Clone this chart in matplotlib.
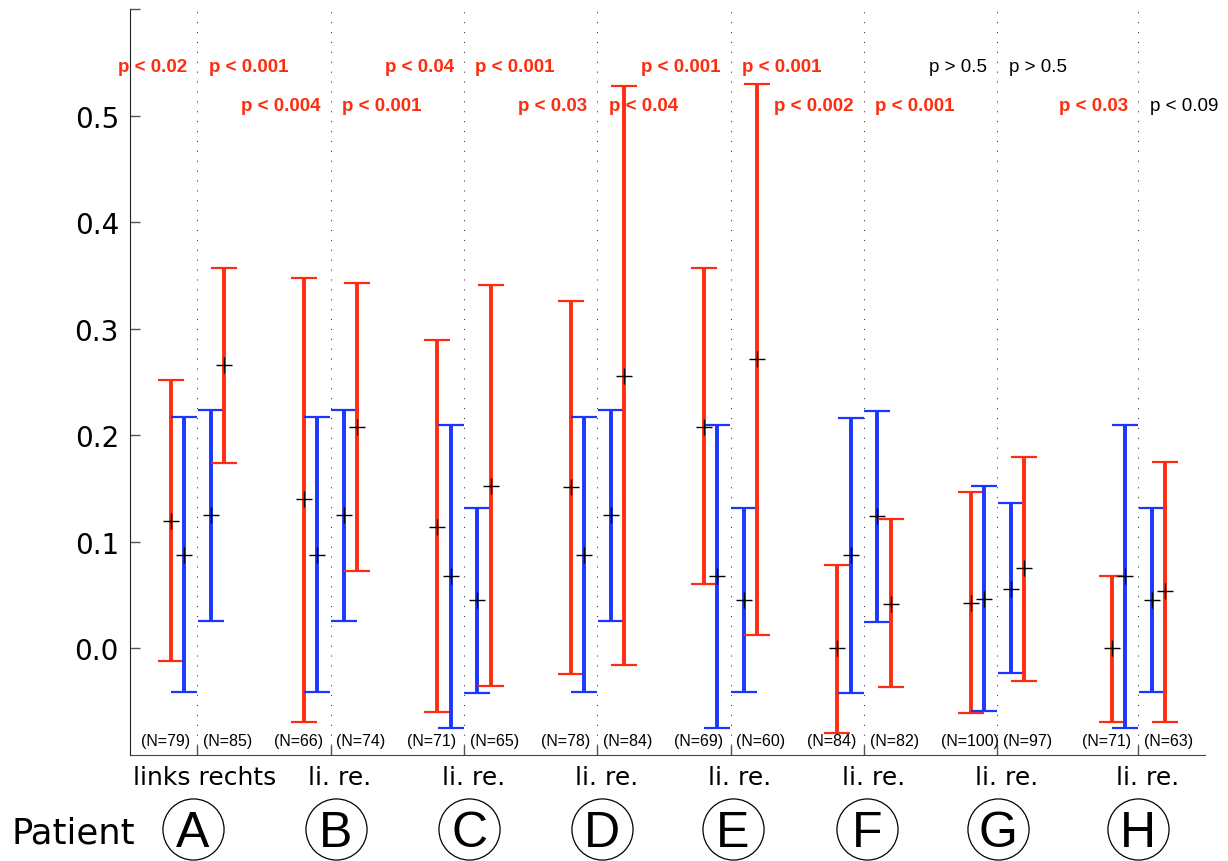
import numpy as np
import matplotlib
matplotlib.use("Agg")
import matplotlib.pyplot as plt

# patients and group labels
patients = ["A", "B", "C", "D", "E", "F", "G", "H"]
side_text = ["links rechts", "li. re.", "li. re.", "li. re.", "li. re.", "li. re.", "li. re.", "li. re."]
n_left = [79, 66, 71, 78, 69, 84, 100, 71]
n_right = [85, 74, 65, 84, 60, 82, 97, 63]

# p values (left / right side), sig -> red bold
p_left = ["p < 0.02", "p < 0.004", "p < 0.04", "p < 0.03", "p < 0.001", "p < 0.002", "p > 0.5", "p < 0.03"]
p_right = ["p < 0.001", "p < 0.001", "p < 0.001", "p < 0.04", "p < 0.001", "p < 0.001", "p > 0.5", "p < 0.09"]
sig_left = [True, True, True, True, True, True, False, True]
sig_right = [True, True, True, True, True, True, False, False]

# red = patient, blue = reference; mean, lower, upper
red_left_mean = [0.120, 0.140, 0.114, 0.151, 0.208, 0.000, 0.043, 0.000]
red_left_lo = [-0.012, -0.069, -0.060, -0.024, 0.060, -0.079, -0.061, -0.069]
red_left_hi = [0.252, 0.348, 0.289, 0.326, 0.357, 0.078, 0.147, 0.068]

blue_left_mean = [0.088, 0.088, 0.068, 0.088, 0.068, 0.088, 0.046, 0.068]
blue_left_lo = [-0.041, -0.041, -0.075, -0.041, -0.075, -0.042, -0.059, -0.075]
blue_left_hi = [0.217, 0.217, 0.210, 0.217, 0.210, 0.216, 0.152, 0.210]

blue_right_mean = [0.125, 0.125, 0.045, 0.125, 0.045, 0.124, 0.056, 0.045]
blue_right_lo = [0.026, 0.026, -0.042, 0.026, -0.041, 0.025, -0.023, -0.041]
blue_right_hi = [0.224, 0.224, 0.132, 0.224, 0.132, 0.223, 0.136, 0.132]

red_right_mean = [0.266, 0.208, 0.152, 0.256, 0.272, 0.042, 0.075, 0.054]
red_right_lo = [0.174, 0.073, -0.035, -0.016, 0.013, -0.036, -0.031, -0.069]
red_right_hi = [0.357, 0.343, 0.341, 0.528, 0.530, 0.121, 0.180, 0.175]

RED = "#ff2d0f"
BLUE = "#1a36ff"

centers = np.array([1, 2, 3, 4, 5, 6, 7, 8.058])
circ_off = [-0.034, 0.04, 0.04, 0.035, 0.017, 0.025, 0.008, 0.0]

fig = plt.figure(figsize=(12.28, 8.62), dpi=100)
ax = fig.add_axes([0.1059, 0.123, 0.8754, 0.8654])


def bars(xoff, mean, lo, hi, color):
    mean = np.array(mean)
    err = [mean - np.array(lo), np.array(hi) - mean]
    ax.errorbar(centers + xoff, mean, yerr=err, fmt="none", ecolor=color,
                elinewidth=2.8, capsize=9.4, capthick=1.6, zorder=3)


bars(-0.2, red_left_mean, red_left_lo, red_left_hi, RED)
bars(-0.1, blue_left_mean, blue_left_lo, blue_left_hi, BLUE)
bars(0.1, blue_right_mean, blue_right_lo, blue_right_hi, BLUE)
bars(0.2, red_right_mean, red_right_lo, red_right_hi, RED)

for xoff, m in [(-0.2, red_left_mean), (-0.1, blue_left_mean),
                (0.1, blue_right_mean), (0.2, red_right_mean)]:
    ax.plot(centers + xoff, m, "+", color="k", ms=12, mew=1.0, zorder=5)

# dotted separators
for c in centers:
    ax.axvline(c, color="#333333", lw=0.75, ls=(0, (1, 8.5)), zorder=1)

ax.set_xlim(0.495, 8.558)
ax.set_ylim(-0.1, 0.6)

ax.set_yticks([0.0, 0.1, 0.2, 0.3, 0.4, 0.5, 0.6])
ax.set_yticklabels(["0.0", "0.1", "0.2", "0.3", "0.4", "0.5", ""])
ax.set_xticks(centers)
ax.set_xticklabels([])
ax.tick_params(axis="y", direction="in", length=7.2, width=1.0, color="#555555",
               labelsize=20, pad=8)
ax.tick_params(axis="x", direction="in", length=7.2, width=1.0, color="#555555")
ax.spines["top"].set_visible(False)
ax.spines["right"].set_visible(False)
ax.spines["left"].set_color("#222222")
ax.spines["bottom"].set_color("#444444")

# N labels
for i, c in enumerate(centers):
    ax.text(c - 0.425, -0.0868, "(N=%d)" % n_left[i], ha="left", va="center",
            fontsize=11.5, family="Liberation Sans")
    ax.text(c + 0.043, -0.0868, "(N=%d)" % n_right[i], ha="left", va="center",
            fontsize=11.5, family="Liberation Sans")

# p values
for i, c in enumerate(centers):
    yrow = 0.5419 if i % 2 == 0 else 0.5053
    for txt, s, x, ha in [(p_left[i], sig_left[i], c - 0.075, "right"),
                          (p_right[i], sig_right[i], c + 0.085, "left")]:
        ax.text(x, yrow, txt, ha=ha, va="baseline", fontsize=13.5,
                family="Liberation Sans",
                color=RED if s else "black",
                fontweight="bold" if s else "normal")

# side labels and patient circles
for i, c in enumerate(centers):
    xo = 0.058 if i == 0 else 0.07
    ax.text(c + xo, -0.1275, side_text[i], ha="center", va="baseline",
            fontsize=18, family="DejaVu Sans", clip_on=False)
    cx = c + circ_off[i]
    ax.plot([cx], [-0.1694], "o", ms=44, mfc="none", mec="k", mew=0.9, clip_on=False)
    ax.text(cx, -0.1855, patients[i], ha="center", va="baseline", fontsize=36,
            family="Liberation Sans", clip_on=False)

fig.text(0.0095, 0.022, "Patient", ha="left", va="baseline", fontsize=25.5,
         family="DejaVu Sans")

fig.savefig("out.png", dpi=100)
